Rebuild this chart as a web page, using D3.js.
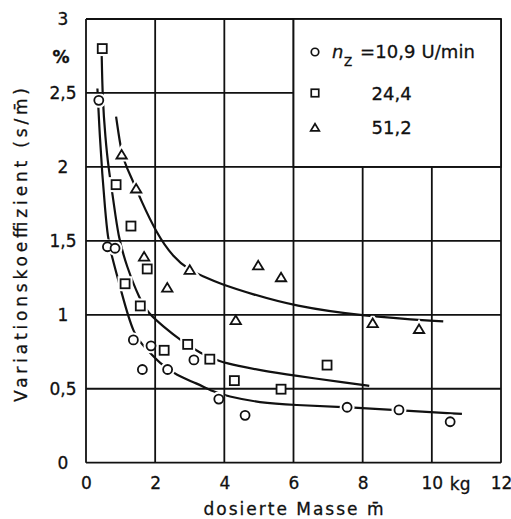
<!DOCTYPE html>
<html>
<head>
<meta charset="utf-8">
<script src="https://cdn.jsdelivr.net/npm/d3@7"></script>
<style>
  body { margin: 0; background: #fff; }
  text { font-family: "DejaVu Sans", sans-serif; fill: #111; stroke: #111; stroke-width: 0.3px; }
</style>
</head>
<body>
<div id="chart"></div>
<script>
// measured points, n_Z = 10,9 / 24,4 / 51,2 U/min
const circX = [0.37, 0.62, 0.84, 1.37, 1.63, 1.88, 2.36, 3.12, 3.84, 4.6, 7.55, 9.05, 10.53];
const circY = [2.45, 1.46, 1.45, 0.83, 0.63, 0.79, 0.63, 0.695, 0.43, 0.32, 0.375, 0.357, 0.277];

const squX = [0.47, 0.87, 1.3, 1.13, 1.77, 1.57, 2.26, 2.94, 3.58, 4.29, 5.64, 6.97];
const squY = [2.80, 1.88, 1.60, 1.21, 1.31, 1.06, 0.76, 0.80, 0.70, 0.555, 0.497, 0.66];

const triX = [1.03, 1.45, 1.68, 2.35, 3.0, 4.33, 4.98, 5.64, 8.29, 9.63];
const triY = [2.08, 1.85, 1.39, 1.18, 1.30, 0.96, 1.33, 1.25, 0.94, 0.90];

// hand drawn fit curves
const fitCircX = [0.33, 0.4, 0.47, 0.55, 0.63, 0.74, 1.03, 1.37, 1.75, 2.14, 2.62, 3.2, 3.68, 4.07, 5.03, 6, 7.55, 9.05, 10.87];
const fitCircY = [2.53, 2.2, 1.95, 1.72, 1.52, 1.40, 1.15, 0.86, 0.77, 0.67, 0.59, 0.537, 0.48, 0.45, 0.405, 0.39, 0.375, 0.355, 0.33];

const fitSquX = [0.45, 0.48, 0.56, 0.645, 0.79, 0.93, 1.17, 1.56, 1.8, 2.24, 2.72, 3.3, 3.87, 4.4, 5.03, 6, 7.63, 8.19];
const fitSquY = [2.80, 2.45, 2.2, 2.0, 1.78, 1.53, 1.33, 1.10, 1.01, 0.92, 0.83, 0.74, 0.683, 0.655, 0.625, 0.59, 0.537, 0.52];

const fitTriX = [0.87, 1.03, 1.17, 1.46, 1.56, 2.04, 2.52, 3.0, 3.39, 3.87, 4.8, 6, 8, 10.33];
const fitTriY = [2.34, 2.08, 2.00, 1.85, 1.79, 1.55, 1.39, 1.30, 1.26, 1.21, 1.14, 1.06, 0.99, 0.955];

const xTicks = [0, 2, 4, 6, 8, 10, 12];
const yTicks = [0, 0.5, 1, 1.5, 2, 2.5, 3];
const legendLabels = ["=10,9 U/min", "24,4", "51,2"];

const width = 511, height = 519;
const margin = { left: 86, right: 10, top: 19, bottom: 56.3 };

const x = d3.scaleLinear().domain([0, 12]).range([margin.left, width - margin.right]);
const y = d3.scaleLinear().domain([0, 3]).range([height - margin.bottom, margin.top]);

const svg = d3.select("#chart")
    .append("svg")
    .attr("width", width)
    .attr("height", height);

const zip = (xs, ys) => xs.map((v, i) => [v, ys[i]]);

// marker shapes
const drawMarker = (sel, kind, s) => {
    if (kind === "circle") {
        sel.append("circle").attr("r", s * 0.5);
    } else if (kind === "square") {
        sel.append("rect").attr("x", -s / 2).attr("y", -s / 2).attr("width", s).attr("height", s);
    } else {
        const w = s * 1.15, h = s * 0.95;
        sel.append("path").attr("d", `M0,${-h * 0.6}L${w / 2},${h * 0.4}L${-w / 2},${h * 0.4}Z`);
    }
};

const series = [
    { kind: "circle", pts: zip(circX, circY), fit: zip(fitCircX, fitCircY) },
    { kind: "square", pts: zip(squX, squY), fit: zip(fitSquX, fitSquY) },
    { kind: "triangle", pts: zip(triX, triY), fit: zip(fitTriX, fitTriY) }
];

const line = d3.line()
    .x(d => x(d[0]))
    .y(d => y(d[1]))
    .curve(d3.curveBasis);

// curves
svg.append("g")
    .selectAll("path")
    .data(series)
    .join("path")
    .attr("d", d => line(d.fit))
    .attr("fill", "none")
    .attr("stroke", "#111")
    .attr("stroke-width", 2.2);

// white halo so curves break at markers
series.forEach(s => {
    svg.append("g")
        .selectAll("g")
        .data(s.pts)
        .join("g")
        .attr("transform", d => `translate(${x(d[0])},${y(d[1])})`)
        .each(function () { drawMarker(d3.select(this), s.kind, 9); })
        .selectAll("*")
        .attr("fill", "#fff")
        .attr("stroke", "#fff")
        .attr("stroke-width", 6);
});

// grid and frame
const grid = svg.append("g")
    .attr("stroke", "#111")
    .attr("stroke-width", 1.8);

grid.selectAll(".vx")
    .data(xTicks)
    .join("line")
    .attr("x1", d => x(d)).attr("x2", d => x(d))
    .attr("y1", y(0)).attr("y2", y(3));

grid.selectAll(".hy")
    .data(yTicks)
    .join("line")
    .attr("x1", x(0)).attr("x2", x(12))
    .attr("y1", d => y(d)).attr("y2", d => y(d));

// legend box covers the upper right cells
svg.append("rect")
    .attr("x", x(6))
    .attr("y", y(3))
    .attr("width", x(12) - x(6))
    .attr("height", y(2) - y(3))
    .attr("fill", "#fff")
    .attr("stroke", "#111")
    .attr("stroke-width", 1.8);

// markers
series.forEach(s => {
    svg.append("g")
        .selectAll("g")
        .data(s.pts)
        .join("g")
        .attr("transform", d => `translate(${x(d[0])},${y(d[1])})`)
        .each(function () { drawMarker(d3.select(this), s.kind, 9); })
        .selectAll("*")
        .attr("fill", "#fff")
        .attr("stroke", "#111")
        .attr("stroke-width", 1.8);
});

// axes (labels only, grid drawn above)
const comma = d => String(d).replace(".", ",");

const xAxis = svg.append("g")
    .attr("transform", `translate(0,${y(0)})`)
    .call(d3.axisBottom(x).tickValues(xTicks).tickSize(0).tickPadding(14).tickFormat(comma));

const yAxis = svg.append("g")
    .attr("transform", `translate(${x(0)},0)`)
    .call(d3.axisLeft(y).tickValues(yTicks).tickSize(0).tickFormat(comma));

[xAxis, yAxis].forEach(a => {
    a.select(".domain").remove();
    a.selectAll("text")
        .style("font-family", "'DejaVu Sans', sans-serif")
        .style("font-size", "17px")
        .attr("fill", "#111");
});
yAxis.selectAll("text")
    .attr("text-anchor", "middle")
    .attr("x", -23);

svg.append("text")
    .attr("x", x(10.82))
    .attr("y", y(0) + 27)
    .attr("text-anchor", "middle")
    .style("font-size", "17px")
    .text("kg");

svg.append("text")
    .attr("x", x(0) - 25)
    .attr("y", y(2.745) + 6)
    .attr("text-anchor", "middle")
    .style("font-size", "17px")
    .style("font-weight", "bold")
    .text("%");

// axis titles
svg.append("text")
    .attr("x", (x(0) + x(12)) / 2)
    .attr("y", 515)
    .attr("text-anchor", "middle")
    .attr("textLength", 180)
    .attr("lengthAdjust", "spacing")
    .style("font-size", "17px")
    .text("dosierte Masse m\u0304");

svg.append("text")
    .attr("transform", "translate(27,245) rotate(-90)")
    .attr("text-anchor", "middle")
    .attr("textLength", 314)
    .attr("lengthAdjust", "spacing")
    .style("font-size", "17px")
    .text("Variationskoeffizient (s/m\u0304)");

// legend
const legendY = [52, 93, 128];
series.forEach((s, i) => {
    const g = svg.append("g").attr("transform", `translate(315,${legendY[i]})`);
    drawMarker(g, s.kind, 7.5);
    g.selectAll("*").attr("fill", "#fff").attr("stroke", "#111").attr("stroke-width", 1.7);
});

svg.append("text")
    .attr("x", 332).attr("y", 58)
    .style("font-size", "18px")
    .style("font-style", "italic")
    .text("n");
svg.append("text")
    .attr("x", 344).attr("y", 66)
    .style("font-size", "12px")
    .text("Z");
svg.append("text")
    .attr("x", 360).attr("y", 58)
    .attr("textLength", 115)
    .attr("lengthAdjust", "spacing")
    .style("font-size", "18px")
    .text(legendLabels[0]);
svg.append("text")
    .attr("x", 371.5).attr("y", 100)
    .style("font-size", "18px")
    .text(legendLabels[1]);
svg.append("text")
    .attr("x", 371.5).attr("y", 134)
    .style("font-size", "18px")
    .text(legendLabels[2]);
</script>
</body>
</html>
